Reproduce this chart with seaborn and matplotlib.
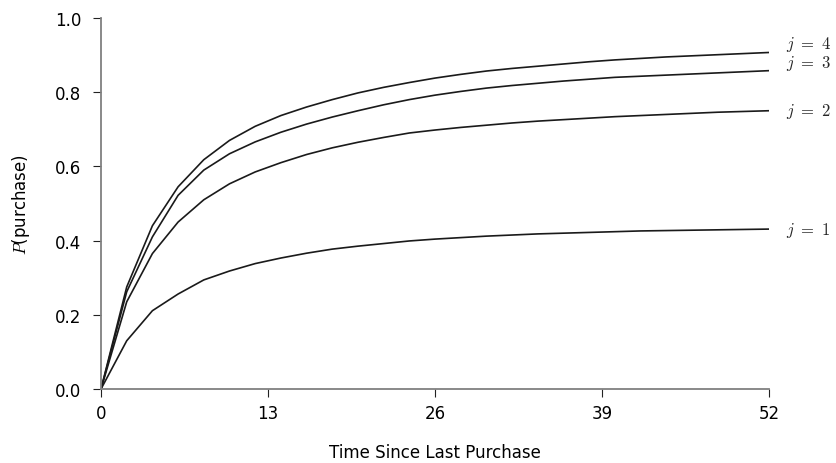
import matplotlib
matplotlib.use("Agg")
import matplotlib.pyplot as plt
import matplotlib.transforms as mtransforms
import seaborn as sns
import pandas as pd

# time since last purchase, every 2 units
t = list(range(0, 53, 2))

p_j1 = [0.0, 0.130, 0.211, 0.256, 0.294, 0.318, 0.338, 0.353, 0.366, 0.377,
        0.385, 0.392, 0.399, 0.404, 0.408, 0.412, 0.415, 0.418, 0.420, 0.422,
        0.424, 0.426, 0.427, 0.428, 0.429, 0.430, 0.431]
p_j2 = [0.0, 0.235, 0.365, 0.450, 0.510, 0.553, 0.585, 0.610, 0.632, 0.650,
        0.665, 0.678, 0.690, 0.698, 0.705, 0.711, 0.717, 0.722, 0.726, 0.730,
        0.734, 0.737, 0.740, 0.743, 0.746, 0.748, 0.750]
p_j3 = [0.0, 0.262, 0.410, 0.522, 0.590, 0.634, 0.666, 0.692, 0.714, 0.733,
        0.750, 0.766, 0.780, 0.792, 0.802, 0.811, 0.818, 0.824, 0.830, 0.835,
        0.840, 0.843, 0.846, 0.849, 0.852, 0.855, 0.858]
p_j4 = [0.0, 0.275, 0.440, 0.545, 0.618, 0.670, 0.708, 0.737, 0.760, 0.780,
        0.798, 0.813, 0.826, 0.838, 0.848, 0.857, 0.864, 0.870, 0.876, 0.882,
        0.887, 0.891, 0.895, 0.898, 0.901, 0.904, 0.907]

series = {"1": p_j1, "2": p_j2, "3": p_j3, "4": p_j4}
# small vertical nudges so the top labels don't collide
label_nudge = {"1": 0.0, "2": 0.0, "3": 0.021, "4": 0.023}

df = pd.concat(
    [pd.DataFrame({"t": t, "p": v, "j": k}) for k, v in series.items()],
    ignore_index=True,
)

sns.set_style("ticks")
plt.rcParams["mathtext.fontset"] = "cm"
plt.rcParams["font.family"] = ["DejaVu Sans"]

fig = plt.figure(figsize=(8.37, 4.64), dpi=100)
ax = fig.add_axes([0.1207, 0.1595, 0.7981, 0.7996])

sns.lineplot(
    data=df, x="t", y="p", hue="j",
    palette=["#1a1a1a"] * 4, linewidth=1.2, legend=False, ax=ax,
)

ax.set_xlim(0, 52)
ax.set_ylim(0, 1)
ax.set_xticks([0, 13, 26, 39, 52])
ax.set_yticks([0.0, 0.2, 0.4, 0.6, 0.8, 1.0])
ax.set_xlabel("Time Since Last Purchase", fontsize=12, labelpad=15, color="black")
ax.set_ylabel(r"$P$(purchase)", fontsize=12, labelpad=17, color="black")
ax.tick_params(axis="both", labelsize=12, length=6, color="#222222",
               labelcolor="black")
ax.tick_params(axis="y", pad=8)
ax.tick_params(axis="x", pad=5)

sns.despine(ax=ax)
for s in ["left", "bottom"]:
    ax.spines[s].set_color("#808080")
    ax.spines[s].set_linewidth(1.3)

offset = mtransforms.offset_copy(ax.transData, fig=fig, x=17, y=0, units="dots")
for k, v in series.items():
    ax.text(52, v[-1] + label_nudge[k], rf"$j\ =\ {k}$", transform=offset,
            fontsize=12, va="center", ha="left", clip_on=False)

fig.savefig("out.png", dpi=100)
